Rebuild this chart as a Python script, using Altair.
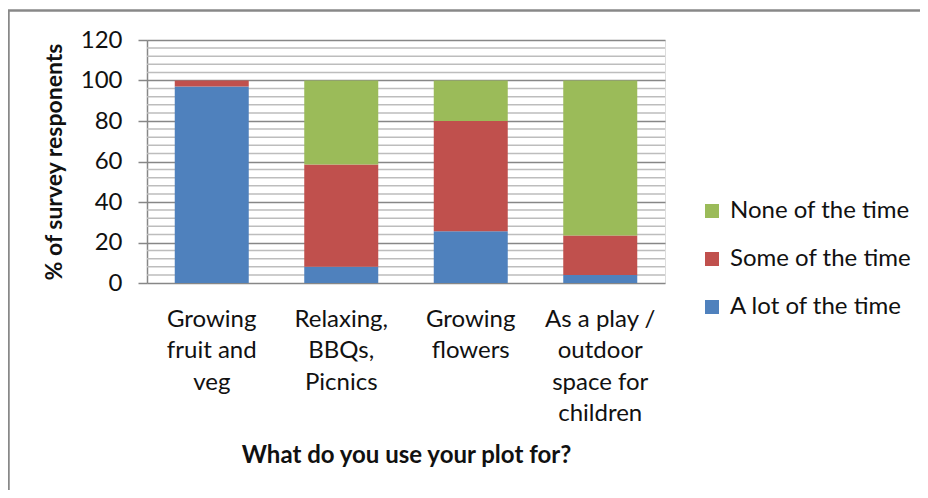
import altair as alt
import pandas as pd

categories = [
    "Growing\nfruit and\nveg",
    "Relaxing,\nBBQs,\nPicnics",
    "Growing\nflowers",
    "As a play /\noutdoor\nspace for\nchildren",
]
series = ["A lot of the time", "Some of the time", "None of the time"]
a_lot = [97, 8, 25.5, 4]
some = [3, 50.5, 54.5, 19.5]
none = [0, 41.5, 20, 76.5]
colors = ["#4F81BD", "#C0504D", "#9BBB59"]
major_grid = [0, 20, 40, 60, 80, 100, 120]
minor_grid = [4, 8, 12, 16, 24, 28, 32, 36, 44, 48, 52, 56, 64, 68, 72, 76,
              84, 88, 92, 96, 104, 108, 112, 116]

rows = []
for vals, s_idx in ((a_lot, 0), (some, 1), (none, 2)):
    for c, v in zip(categories, vals):
        rows.append({"cat": c, "series": series[s_idx], "rank": s_idx, "value": v})
df = pd.DataFrame(rows)

FONT = "Lato"
FS = 24
yscale = alt.Scale(domain=[0, 120], nice=False)
yaxis = alt.Axis(values=major_grid, grid=True, gridColor="#878787", gridWidth=1.5,
                 domainColor="#878787", domainWidth=1.5, tickColor="#878787",
                 tickWidth=1.5, tickSize=9, labelFontSize=FS, labelColor="#111",
                 labelPadding=16, title="% of survey responents", titleFontSize=23,
                 titleFontWeight="bold", titleColor="#111", titlePadding=14,
                 labelFont=FONT, titleFont=FONT)

minor = alt.Chart(pd.DataFrame({"v": minor_grid})).mark_rule(
    color="#bdbdbd", strokeWidth=1.5
).encode(y=alt.Y("v:Q", scale=yscale, axis=yaxis))

bars = alt.Chart(df).mark_bar(size=74).encode(
    x=alt.X("cat:N", sort=categories, scale=alt.Scale(paddingInner=0.43, paddingOuter=0.215),
            axis=alt.Axis(labelAngle=0, labelExpr="split(datum.label, '\\n')",
                          labelFontSize=FS, labelLineHeight=31.5, labelColor="#111",
                          labelFont=FONT, domain=False, ticks=False, labelPadding=24,
                          title="What do you use your plot for?", titleFontSize=FS,
                          titleFontWeight="bold", titleFont=FONT, titleColor="#111",
                          titlePadding=18)),
    y=alt.Y("value:Q", stack="zero", scale=yscale, axis=yaxis),
    color=alt.Color("series:N", scale=alt.Scale(domain=series, range=colors),
                    sort=["None of the time", "Some of the time", "A lot of the time"],
                    legend=alt.Legend(title=None, orient="none", legendX=553, legendY=159,
                                      padding=0, labelLimit=400,
                                      labelFontSize=FS, labelFont=FONT, labelColor="#111",
                                      symbolType="square", symbolSize=196,
                                      symbolStrokeWidth=0, rowPadding=24, labelOffset=6,
                                      values=["None of the time", "Some of the time",
                                              "A lot of the time"])),
    order=alt.Order("rank:Q", sort="ascending"),
)

frame_v = alt.Chart(pd.DataFrame({"k": [0]})).mark_rule(color="#888888", strokeWidth=2.5).encode(
    x=alt.value(-138.5), y=alt.value(-29.5), y2=alt.value(600))
frame_h = alt.Chart(pd.DataFrame({"k": [0]})).mark_rule(color="#888888", strokeWidth=2.5).encode(
    y=alt.value(-29.5), x=alt.value(-139.7), x2=alt.value(900))

chart = alt.layer(minor, bars, frame_v, frame_h).properties(
    width=518, height=243,
    autosize=alt.AutoSizeParams(type="none"),
    padding={"left": 139, "top": 32, "right": 255, "bottom": 207},
).configure_view(strokeOpacity=0).configure(font=FONT)

chart.save("out.html", embed_options={"renderer": "svg", "actions": False})
